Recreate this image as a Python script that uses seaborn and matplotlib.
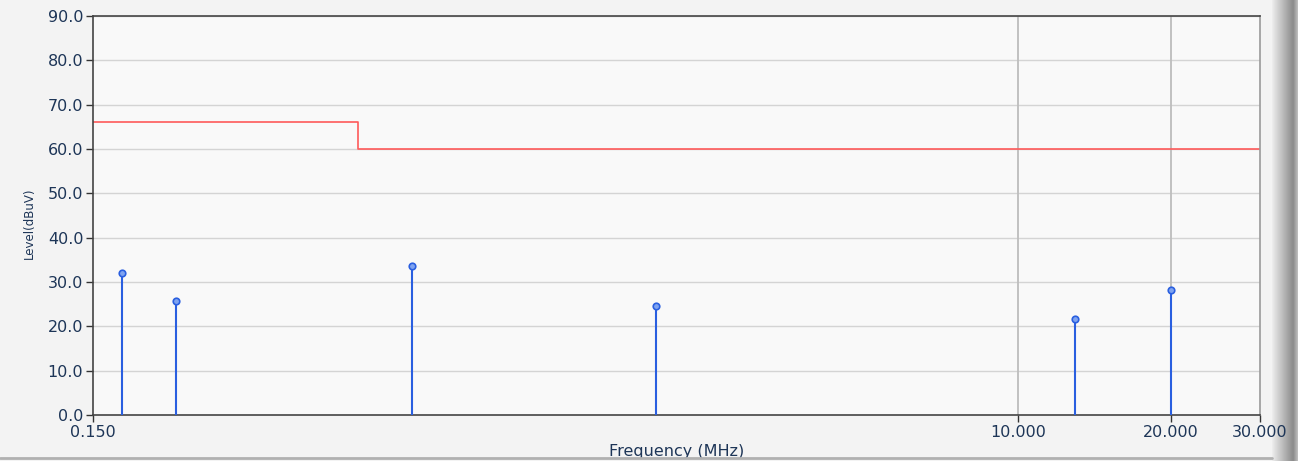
import numpy as np
import pandas as pd
import matplotlib
matplotlib.use('Agg')
import matplotlib.pyplot as plt
import seaborn as sns

# peak readings (MHz, dBuV)
freq_mhz = [0.171, 0.219, 0.638, 1.93, 12.97, 20.05]
level_dbuv = [32.0, 25.8, 33.5, 24.6, 21.7, 28.2]

# limit line (step)
limit_freq = [0.15, 0.5, 30.0]
limit_level = [66.0, 60.0, 60.0]

x_ticks = [0.15, 10.0, 20.0, 30.0]
x_tick_labels = ['0.150', '10.000', '20.000', '30.000']
y_ticks = [0, 10, 20, 30, 40, 50, 60, 70, 80, 90]

peaks = pd.DataFrame({'freq': freq_mhz, 'level': level_dbuv})
limit = pd.DataFrame({'freq': limit_freq, 'level': limit_level})

sns.set_style('white')
plt.rcParams['font.family'] = ['DejaVu Sans']

fig = plt.figure(figsize=(12.98, 4.61), dpi=100)
fig.patch.set_facecolor('#f3f3f3')

# shaded frame on the right (drawn first so tick labels sit on top)
side = fig.add_axes([1272/1298, 0, 26/1298, 1])
grad = np.concatenate([np.linspace(0.93, 0.55, 52), np.linspace(0.55, 0.75, 12)]).reshape(1, -1)
side.imshow(grad, aspect='auto', cmap='gray', vmin=0, vmax=1)
side.axis('off')
fig.add_artist(plt.Line2D([0, 1272/1298], [3/461, 3/461], color='#b0b0b0', lw=2))

ax = fig.add_axes([93/1298, 1-415/461, (1260-93)/1298, (415-16)/461])
ax.set_facecolor('#f9f9f9')

ax.set_xscale('log')
ax.set_xlim(0.15, 30)
ax.set_ylim(0, 90)

# grid
for y in y_ticks[1:]:
    ax.axhline(y, color='#d4d4d4', lw=1, zorder=0)
for x in [10, 20]:
    ax.axvline(x, color='#bdbdbd', lw=1.3, zorder=0)

sns.lineplot(data=limit, x='freq', y='level', drawstyle='steps-post',
             color='#ff5a5a', lw=1.2, ax=ax, zorder=2)

ax.vlines(peaks['freq'], 0, peaks['level'], color='#2a5fe0', lw=1.5, zorder=3)
sns.scatterplot(data=peaks, x='freq', y='level', ax=ax, s=22, marker='o',
                facecolor='#7fa3f0', edgecolor='#2a5fe0', linewidth=1.2, zorder=4)

ax.xaxis.set_minor_locator(matplotlib.ticker.NullLocator())
ax.set_xticks(x_ticks)
ax.set_xticklabels(x_tick_labels)
ax.set_yticks(y_ticks)
ax.set_yticklabels([f'{v:.1f}' for v in y_ticks])
ax.tick_params(axis='both', direction='out', length=5, width=1, colors='#333333',
               labelcolor='#1d3557', labelsize=11.5, pad=2, left=True, bottom=True)

for s in ['left', 'bottom', 'top']:
    ax.spines[s].set_color('#444444')
    ax.spines[s].set_linewidth(1.2)
ax.spines['right'].set_color('#9a9a9a')
ax.spines['right'].set_linewidth(1.2)

ax.set_xlabel('Frequency (MHz)', fontsize=11.5, color='#1d3557')
ax.set_ylabel('Level(dBuV)', fontsize=8.5, color='#1d3557')
ax.xaxis.set_label_coords(0.5, -0.073)
ax.yaxis.set_label_coords(-0.049, 0.48)

fig.savefig('out.png', dpi=100, facecolor=fig.get_facecolor())
